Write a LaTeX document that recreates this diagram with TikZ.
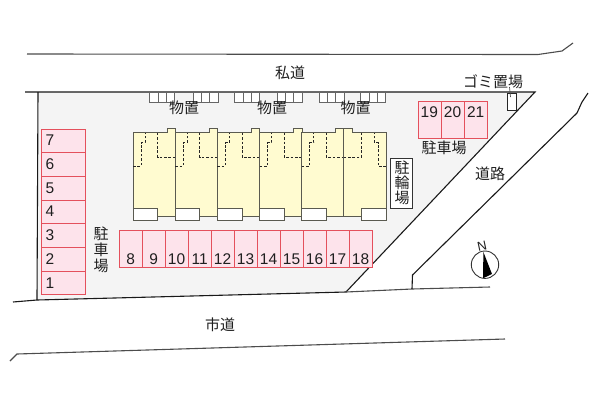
\documentclass[tikz,border=0pt]{standalone}
\usepackage{fontspec}
\setmainfont{Liberation Sans}
\newfontfamily\cjk{Noto Sans CJK JP}
\definecolor{lotgray}{HTML}{F4F4F4}
\definecolor{stallpink}{HTML}{FDE3EB}
\definecolor{stallred}{HTML}{E4505C}
\definecolor{unitcream}{HTML}{FFFBD0}
\definecolor{wallgray}{HTML}{5A5A50}
\tikzset{
	roadline/.style={line width=1.1pt, color=black!90},
	stall/.style={line width=0.9pt, draw=stallred, fill=stallpink},
	shed/.style={line width=1pt, draw=black!60, fill=white},
	wall/.style={line width=1pt, draw=wallgray, fill=unitcream},
	porch/.style={line width=1pt, draw=wallgray, fill=white},
	inner/.style={line width=0.8pt, color=black!85, dash pattern=on 2.6pt off 1.8pt},
	jp/.style={font=\cjk\fontsize{15}{16}\selectfont, color=black!88, inner sep=0pt},
	num/.style={font=\fontsize{15.5}{17}\selectfont, color=black!88, inner sep=0pt}
}
\def\unitplan(#1)[#2]{%
	\draw[wall] (#1, 132.7) -- ++(#2*34, 0) -- ++(0, -4.2) -- ++(#2*8.4, 0) -- ++(0, 87.5) -- ++(#2*-42.4, 0) -- cycle;
	\draw[inner] (#1, 166) -- ++(#2*8, 0) -- ++(0, -23.3) -- ++(#2*4, 0) -- ++(0, -10);
	\draw[inner] (#1+#2*24.5, 132.7) -- ++(0, 24.3) -- ++(#2*17.9, 0);
}
\begin{document}
\begin{tikzpicture}[x=1pt, y=-1pt]
	\useasboundingbox (0, 0) rectangle (600, 400);
	
	% site
	\fill[lotgray] (38, 92) -- (535, 92) -- (346, 292) -- (37, 300) -- cycle;
	\draw[roadline] (25, 92) -- (535, 92) -- (346, 292);
	\draw[roadline] (38, 92) -- (37, 300);
	\draw[roadline] (13, 302) -- (37, 300) -- (346, 292);
	\draw[roadline, color=black!70] (346, 292) -- (412, 289) -- (490, 287);
	
	% roads
	\draw[roadline, color=black!70] (27, 54) -- (538, 54.5) -- (562, 51) -- (573, 43);
	\draw[roadline] (412, 289) -- (412.5, 275) -- (577, 113) -- (582, 102) -- (588, 93);
	\draw[roadline, color=black!70] (10, 361) -- (17, 354) -- (505, 339);
	
	% sheds
	\foreach \x in {149.7, 193, 234.7, 277, 319, 360.7}{
		\foreach \i in {0, 1, 2}{
			\draw[shed] (\x+\i*8.4, 92) rectangle (\x+\i*8.4+8.4, 102);
		}
	}
	
	% building
	\foreach \x in {133, 175.2, 217.4, 259.6, 301.8}{
		\unitplan(\x)[1]
	}
	\unitplan(386)[-1]
	\foreach \x in {133, 175.2, 217.4, 259.6, 301.8, 361.3}{
		\draw[porch] (\x, 208) rectangle (\x+24.7, 220);
	}
	
	% parking
	\foreach \i [evaluate=\i as \y using 129+(7-\i)*23.7] in {1, ..., 7}{
		\draw[stall] (41, \y) rectangle (85, \y+23.7);
		\node[num, anchor=west] (left\i) at (45.5, \y+11.5) {\i};
	}
	\foreach \i [evaluate=\i as \x using 119+(\i-8)*23] in {8, ..., 18}{
		\draw[stall] (\x, 230) rectangle (\x+23, 267);
		\node[num] (low\i) at (\x+11.6, 259) {\i};
	}
	\foreach \i [evaluate=\i as \x using 418+(\i-19)*23.2] in {19, 20, 21}{
		\draw[stall] (\x, 101) rectangle (\x+23.2, 138);
		\node[num] (top\i) at (\x+11.3, 112.5) {\i};
	}
	
	% bicycles, bins
	\draw[line width=1pt, draw=black!80, fill=white] (390.7, 158) rectangle (412, 208);
	\draw[line width=1pt, draw=black!85, fill=white] (507.3, 93) rectangle (516.3, 110);
	\draw[line width=0.7pt, color=black!70] (509.5, 87) -- (510.5, 97);
	
	% north
	\draw[line width=0.9pt, color=black!80] (485, 264.7) circle (13.7);
	\fill[black] (483.4, 252) -- (492, 274) -- (483, 278.3) -- cycle;
	\node[jp, font=\fontsize{13}{14}\selectfont, rotate=12] (north) at (482, 246) {N};
	
	% labels
	\node[jp] (privateroad) at (290, 73) {私道};
	\node[jp] (cityroad) at (220, 325) {市道};
	\node[jp] (sideroad) at (490, 174) {道路};
	\node[jp] (bins) at (493, 82) {ゴミ置場};
	\node[jp] (shedA) at (184, 108) {物置};
	\node[jp] (shedB) at (272, 108) {物置};
	\node[jp] (shedC) at (355.5, 108) {物置};
	\node[jp] (parktop) at (444, 148) {駐車場};
	\node[jp, align=center] (parkleft) at (101, 250) {駐\\車\\場};
	\node[jp, align=center] (bikes) at (402, 183) {駐\\[-1pt]輪\\[-1pt]場};
\end{tikzpicture}
\end{document}
